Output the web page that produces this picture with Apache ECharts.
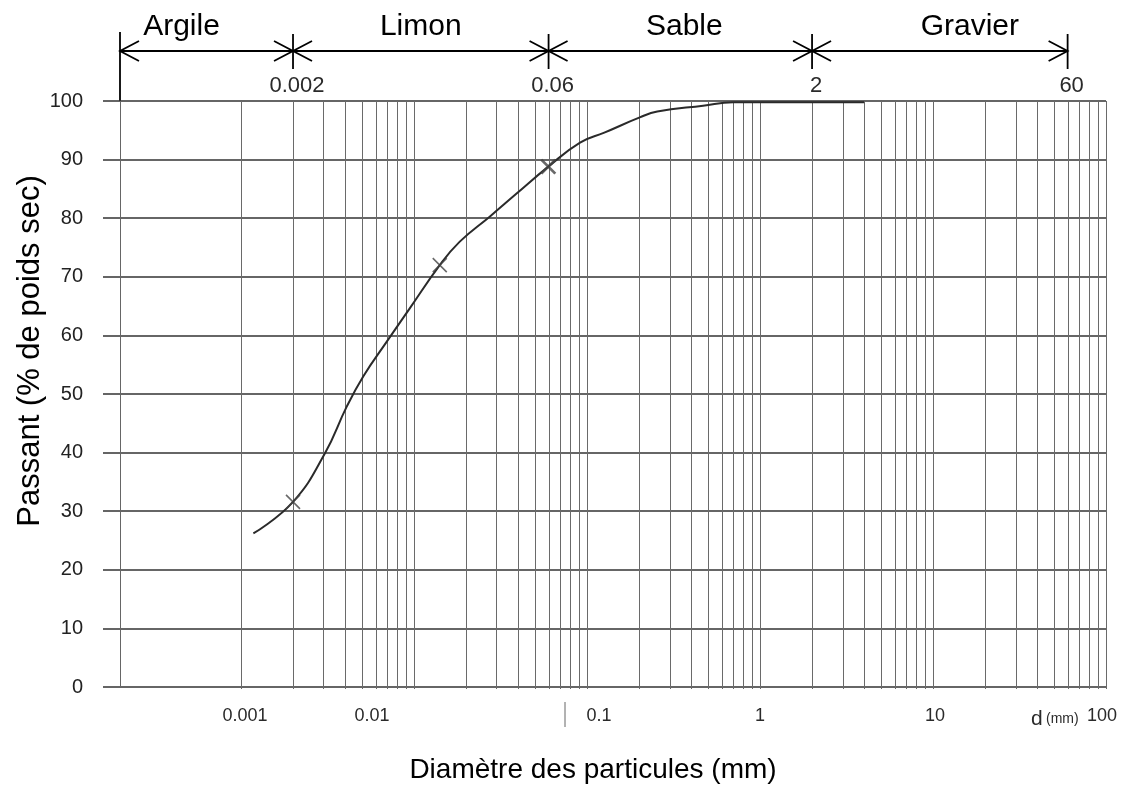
<!DOCTYPE html>
<html><head><meta charset="utf-8">
<script src="https://cdn.jsdelivr.net/npm/echarts@6/dist/echarts.min.js"></script>
<style>html,body{margin:0;padding:0;background:#fff}#c{width:1131px;height:789px}</style>
</head><body><div id="c"></div>
<script>
// ---- data ----
const diameters = [0.00118, 0.002, 0.00306, 0.00408, 0.00509, 0.00695, 0.0095, 0.0141, 0.0184, 0.0275, 0.0392, 0.0598, 0.0912, 0.126, 0.202, 0.255, 0.469, 0.7, 4];
const passing   = [26.2, 31.6, 39.9, 47.8, 53.0, 58.9, 64.7, 72.0, 76.0, 80.3, 84.2, 88.8, 92.9, 94.6, 97.2, 98.2, 99.2, 99.8, 99.8];
const markerDiameters = [0.002, 0.0141, 0.0598];
const markerPassing   = [31.6, 72.0, 88.8];
const markerWeights   = [1.6, 1.6, 2.8];
const xTickLabels = ['0.001', '0.01', '0.1', '1', '10', '100'];
const classNames  = ['Argile', 'Limon', 'Sable', 'Gravier'];
const classBounds = [0.0002, 0.002, 0.06, 2, 60];
const boundLabels = ['', '0.002', '0.06', '2', '60'];
const gridDecades = [0.001, 0.01, 0.1, 1, 10];
const gridMultipliers = [1, 2, 3, 4, 5, 6, 7, 8, 9];
const yTitle = 'Passant (% de poids sec)';
const xTitle = 'Diamètre des particules (mm)';
const unitLabel = 'd';
const unitSuffix = '(mm)';

// ---- build ----
const FONT = '"Liberation Sans", Arial, sans-serif';
const vLines = [];
gridDecades.forEach(d => gridMultipliers.forEach(k => vLines.push(+(d * k).toPrecision(3))));
vLines.push(100);

const curve = diameters.map((d, i) => [d, passing[i]]);
const marks = markerDiameters.map((d, i) => ({
  value: [d, markerPassing[i]],
  itemStyle: { borderWidth: markerWeights[i] }
}));

// label nudges as printed on the scanned sheet (pixels, + = right)
const labelNudge = [4, -42, 12, 0, 2, -4];
const rich = {};
labelNudge.forEach((n, i) => {
  rich['l' + i] = {
    fontSize: 18, color: '#2a2a2a', fontFamily: FONT,
    padding: n >= 0 ? [0, 0, 0, 2 * n] : [0, -2 * n, 0, 0]
  };
});

const option = {
  animation: false,
  backgroundColor: '#fff',
  grid: { left: 120, right: 25, top: 101, bottom: 102, containLabel: false },
  xAxis: {
    type: 'log', logBase: 10, min: 0.0002, max: 100,
    axisLine: { show: false }, axisTick: { show: false }, splitLine: { show: false },
    axisLabel: {
      interval: 0, margin: 20, fontSize: 18, color: '#2a2a2a', fontFamily: FONT,
      showMinLabel: false, rich: rich,
      formatter: v => {
        const e = Math.round(Math.log10(v));
        if (Math.abs(Math.log10(v) - e) > 1e-6) return '';
        const idx = e + 3;
        return (idx >= 0 && idx < xTickLabels.length) ? '{l' + idx + '|' + xTickLabels[idx] + '}' : '';
      }
    }
  },
  yAxis: {
    type: 'value', min: 0, max: 100, interval: 10,
    axisLine: { show: true, lineStyle: { color: '#666', width: 1 } },
    axisTick: { show: true, inside: false, length: 17, lineStyle: { color: '#333', width: 1.5 } },
    axisLabel: { margin: 37, fontSize: 20, color: '#222', fontFamily: FONT },
    splitLine: { show: true, lineStyle: { color: '#333', width: 1.5 } }
  },
  series: [
    {
      type: 'line', data: curve, z: 5, smooth: 0.45, showSymbol: false,
      lineStyle: { color: '#2a2a2a', width: 2 }
    },
    {
      type: 'scatter', data: marks, z: 6,
      symbol: 'path://M0,0 L10,10 M10,0 L0,10', symbolSize: 14,
      itemStyle: { color: 'rgba(0,0,0,0)', borderColor: '#444', borderWidth: 1.6 }
    }
  ]
};

const chart = echarts.init(document.getElementById('c'), null, { renderer: 'canvas' });
chart.setOption(option);

const X = v => chart.convertToPixel({ xAxisIndex: 0 }, v);
const Y = v => chart.convertToPixel({ yAxisIndex: 0 }, v);
const g = [];
// vertical log grid
vLines.forEach(v => {
  const x = Math.round(X(v)) + 0.5;
  g.push({ type: 'line', z: 0, silent: true, shape: { x1: x, y1: Y(100), x2: x, y2: Y(0) + 2 }, style: { stroke: '#6a6a6a', lineWidth: 1 } });
});
const yA = 51;
const ink = '#000';
g.push({ type: 'line', shape: { x1: X(classBounds[0]), y1: yA, x2: X(classBounds[4]), y2: yA }, style: { stroke: ink, lineWidth: 1.8 } });
classBounds.forEach((b, i) => {
  const x = X(b);
  const top = i === 0 ? 32 : 34;
  const bot = i === 0 ? Y(100) : 69;
  g.push({ type: 'line', shape: { x1: x, y1: top, x2: x, y2: bot }, style: { stroke: ink, lineWidth: 1.8 } });
  if (boundLabels[i]) {
    g.push({ type: 'text', x: x + 4, y: 86, style: { text: boundLabels[i], fontSize: 22, fontFamily: FONT, fill: '#2a2a2a', textAlign: 'center', textVerticalAlign: 'middle' } });
  }
});
const nameShift = [-25, 0, 4, 30];
classNames.forEach((n, i) => {
  const a = X(classBounds[i]), b = X(classBounds[i + 1]);
  g.push({ type: 'polyline', shape: { points: [[a + 19, yA - 10], [a, yA], [a + 19, yA + 10]] }, style: { stroke: ink, lineWidth: 1.8, fill: null } });
  g.push({ type: 'polyline', shape: { points: [[b - 19, yA - 10], [b, yA], [b - 19, yA + 10]] }, style: { stroke: ink, lineWidth: 1.8, fill: null } });
  g.push({ type: 'text', x: (a + b) / 2 + nameShift[i], y: 27, style: { text: n, fontSize: 30, fontFamily: FONT, fill: ink, textAlign: 'center', textVerticalAlign: 'middle' } });
});
// axis titles
g.push({ type: 'text', x: 593, y: 770, style: { text: xTitle, fontSize: 28, fontFamily: FONT, fill: ink, textAlign: 'center', textVerticalAlign: 'middle' } });
g.push({ type: 'text', x: 30, y: 351, rotation: Math.PI / 2, style: { text: yTitle, fontSize: 31, fontFamily: FONT, fill: ink, textAlign: 'center', textVerticalAlign: 'middle' } });
// unit label near the x axis
g.push({ type: 'text', x: 1031, y: 719, style: { text: '{a|' + unitLabel + '} {b|' + unitSuffix + '}', rich: { a: { fontSize: 21, fontFamily: FONT, fill: '#2a2a2a' }, b: { fontSize: 14, fontFamily: FONT, fill: '#2a2a2a' } }, textAlign: 'left', textVerticalAlign: 'middle' } });
// small scan mark left of 0.1
g.push({ type: 'line', shape: { x1: 565, y1: 702, x2: 565, y2: 727 }, style: { stroke: '#666', lineWidth: 1 } });
chart.setOption({ graphic: g });
</script>
</body></html>
